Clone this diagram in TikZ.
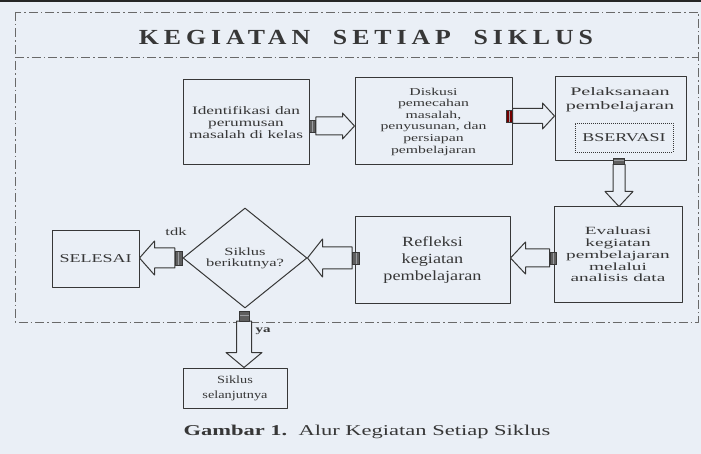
\documentclass[tikz,border=0pt]{standalone}
\usepackage{fontspec}
\setmainfont{Liberation Serif}[FakeStretch=1.5]
\newfontfamily\narrowserif{Liberation Serif}[FakeStretch=1.3]
\newfontfamily\wideserif{Liberation Serif}[FakeStretch=1.75]
\newfontfamily\titleserif{Liberation Serif}[FakeStretch=1.2,LetterSpace=23]
\usetikzlibrary{calc,shapes.geometric}
\definecolor{paper}{RGB}{234,239,246}
\definecolor{ink}{RGB}{55,55,55}

% hollow block arrow: from, to, shaft half width, head half width, head length
\newcommand{\blockarrow}[5]{%
  \coordinate (ba) at ($(#2)!#5pt!(#1)$);
  \draw[arrowline] ($(#1)!#3pt!90:(#2)$) -- ($(ba)!#3pt!-90:(#1)$) -- ($(ba)!#4pt!-90:(#1)$)
    -- (#2) -- ($(ba)!#4pt!90:(#1)$) -- ($(ba)!#3pt!90:(#1)$) -- ($(#1)!#3pt!-90:(#2)$) -- cycle;}

\begin{document}
\begin{tikzpicture}[x=1pt,y=-1pt,line join=round,
  box/.style={draw=ink,line width=1pt,align=center,text=ink,inner sep=0pt},
  tabv/.style={draw=ink,fill=ink!80,line width=0.6pt,inner sep=0pt,minimum width=6pt,minimum height=12pt,
    path picture={\draw[paper!55!ink,line width=1pt] (path picture bounding box.north) -- (path picture bounding box.south);}},
  tabh/.style={draw=ink,fill=ink!80,line width=0.6pt,inner sep=0pt,minimum width=11pt,minimum height=6pt,
    path picture={\draw[paper!55!ink,line width=1pt] (path picture bounding box.west) -- (path picture bounding box.east);}},
  arrowline/.style={draw=ink,line width=1pt,fill=paper},
  frameline/.style={draw=ink!75,line width=0.8pt,dash pattern=on 9pt off 3pt on 1.5pt off 3pt},
  lbl/.style={text=ink,inner sep=0pt}]
\useasboundingbox (0,0) rectangle (701,454);
\fill[paper] (0,0) rectangle (701,454);
\fill[black!85] (0,0) rectangle (701,2.5);

\draw[frameline] (15,12) rectangle (698,322);
\draw[frameline] (15,57) -- (698,57);
\node[lbl,font=\titleserif\bfseries\fontsize{21.5}{21.5}\selectfont] (title) at (366,37) {KEGIATAN\ \ SETIAP\ \ SIKLUS};

\node[box,minimum width=126pt,minimum height=85pt,font=\fontsize{11.5}{12}\selectfont] (ident) at (246,122.5)
  {Identifikasi dan\\perumusan\\masalah di kelas};
\node[box,minimum width=157pt,minimum height=87pt,font=\fontsize{10.5}{11.6}\selectfont] (diskusi) at (433.5,121.5)
  {Diskusi\\pemecahan\\masalah,\\penyusunan, dan\\persiapan\\pembelajaran};
\node[box,minimum width=131pt,minimum height=84pt] (laksana) at (620.5,119) {};
\node[lbl,align=center,font=\wideserif\fontsize{11.5}{14}\selectfont] (laksanatext) at (620,100)
  {Pelaksanaan\\pembelajaran};
\node[box,densely dotted,line width=0.8pt,minimum width=98pt,minimum height=29pt,font=\fontsize{12}{12}\selectfont] (observasi) at (624,137.5)
  {BSERVASI};
\node[box,minimum width=128pt,minimum height=95pt,font=\wideserif\fontsize{11}{11.8}\selectfont] (evaluasi) at (618,254.5)
  {Evaluasi\\kegiatan\\pembelajaran\\melalui\\analisis data};
\node[box,minimum width=155pt,minimum height=86pt,font=\narrowserif\fontsize{14}{17}\selectfont] (refleksi) at (432.5,260)
  {Refleksi\\kegiatan\\pembelajaran};
\node[box,diamond,minimum width=124pt,minimum height=100pt,font=\fontsize{11}{11}\selectfont] (keputusan) at (245,258)
  {Siklus\\berikutnya?};
\node[box,minimum width=87pt,minimum height=56pt,font=\fontsize{12}{12}\selectfont] (selesai) at (95.5,259) {SELESAI};
\node[box,minimum width=104pt,minimum height=40pt,font=\narrowserif\fontsize{11}{15}\selectfont] (lanjut) at (235,388)
  {Siklus\\selanjutnya};

\node[tabv] (tab1) at (312.5,126) {};
\node[tabv,fill=red!45!black,anchor=east] (tab2) at (diskusi.east |- 0,116) {};
\node[tabh] (tab3) at (619,161) {};
\node[tabv] (tab4) at (553,258) {};
\node[tabv,minimum width=7pt] (tab5) at (356,258) {};
\node[tabv,minimum width=7pt,minimum height=14pt,anchor=east] (tab6) at (keputusan.west) {};
\node[tabh,minimum width=10pt,minimum height=10pt,anchor=north] (tab7) at ($(keputusan.south)+(-1,2)$) {};

\coordinate (a1) at (tab1.east -| diskusi.west);
\coordinate (a2) at (tab2.east -| laksana.west);
\coordinate (a3) at (tab3.south |- evaluasi.north);
\coordinate (a4) at (tab4.west -| refleksi.east);
\coordinate (a6) at (tab6.west -| selesai.east);
\coordinate (a7) at (tab7.south |- lanjut.north);
\blockarrow{tab1.east}{a1}{9}{13}{12}
\blockarrow{tab2.east}{a2}{7.5}{13}{12}
\blockarrow{tab3.south}{a3}{6}{14}{15}
\blockarrow{tab4.west}{a4}{9}{16}{15}
\blockarrow{tab5.west}{keputusan.east}{11}{19}{15}
\blockarrow{tab6.west}{a6}{10}{17}{15}
\blockarrow{tab7.south}{a7}{7.5}{18}{15}
\node[tabv] at (tab1) {};
\node[tabv,fill=red!45!black] at (tab2) {};
\node[tabh] at (tab3) {};
\node[tabv] at (tab4) {};
\node[tabv,minimum width=7pt] at (tab5) {};
\node[tabv,minimum width=7pt,minimum height=14pt] at (tab6) {};
\node[tabh,minimum width=10pt,minimum height=10pt] at (tab7) {};

\node[lbl,font=\fontsize{11}{11}\selectfont] (tdk) at (176,232) {tdk};
\node[lbl,font=\bfseries\fontsize{10}{10}\selectfont] (ya) at (263,331) {ya};
\node[lbl,font=\fontsize{15}{15}\selectfont] (caption) at (367,432) {\textbf{Gambar 1.}\ \ Alur Kegiatan Setiap Siklus};
\end{tikzpicture}
\end{document}
